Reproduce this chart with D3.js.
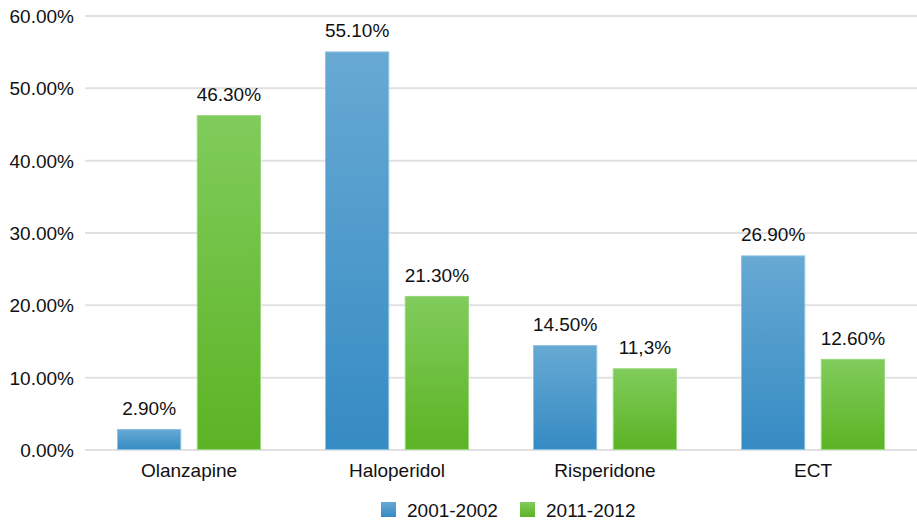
<!DOCTYPE html>
<html>
<head>
<meta charset="utf-8">
<script src="https://cdn.jsdelivr.net/npm/d3@7"></script>
<style>
  body { margin: 0; background: #fff; }
  text { font-family: "Liberation Sans", Arial, Helvetica, sans-serif; fill: #111; }
</style>
</head>
<body>
<svg id="chart" width="917" height="521"></svg>
<script>

let categories = ["Olanzapine", "Haloperidol", "Risperidone", "ECT"]
let seriesNames = ["2001-2002", "2011-2012"]
let values2001 = [2.9, 55.1, 14.5, 26.9]
let values2011 = [46.3, 21.3, 11.3, 12.6]
let labels2001 = ["2.90%", "55.10%", "14.50%", "26.90%"]
let labels2011 = ["46.30%", "21.30%", "11,3%", "12.60%"]
let yTicks = [0, 10, 20, 30, 40, 50, 60]

let svg = d3.select("#chart")
let plotLeft = 85, plotRight = 917, plotTop = 16, plotBottom = 450
let fontSize = "19px"

let x = d3.scaleBand().domain(categories).range([plotLeft, plotRight])
let inner = d3.scaleBand().domain(seriesNames).range([32, 176]).paddingInner(14 / 72)
let y = d3.scaleLinear().domain([0, 60]).range([plotBottom, plotTop])

let defs = svg.append("defs")
let gradients = [
  {id: "gBlue", top: "#67a9d3", bottom: "#358bc3", stroke: "#8cc2e3"},
  {id: "gGreen", top: "#80cc5c", bottom: "#5cb324", stroke: "#9ad77c"}
]
gradients.forEach(function(g) {
  let lg = defs.append("linearGradient").attr("id", g.id)
    .attr("x1", 0).attr("y1", 0).attr("x2", 0).attr("y2", 1)
  lg.append("stop").attr("offset", "0%").attr("stop-color", g.top)
  lg.append("stop").attr("offset", "100%").attr("stop-color", g.bottom)
})

// gridlines
svg.append("g")
   .selectAll("line")
   .data(yTicks)
   .enter()
   .append("line")
   .attr("x1", plotLeft)
   .attr("x2", plotRight)
   .attr("y1", function(d) { return y(d) })
   .attr("y2", function(d) { return y(d) })
   .style("stroke", "#e1e1e1")
   .style("stroke-width", 2)

// y axis labels
svg.append("g")
   .selectAll("text")
   .data(yTicks)
   .enter()
   .append("text")
   .attr("x", 74)
   .attr("y", function(d) { return y(d) })
   .attr("dy", "0.36em")
   .attr("text-anchor", "end")
   .style("font-size", fontSize)
   .text(function(d) { return d.toFixed(2) + "%" })

let series = [
  {name: seriesNames[0], values: values2001, labels: labels2001, grad: gradients[0]},
  {name: seriesNames[1], values: values2011, labels: labels2011, grad: gradients[1]}
]

series.forEach(function(s) {
  let g = svg.append("g")
  g.selectAll("rect")
   .data(categories)
   .enter()
   .append("rect")
   .attr("x", function(c) { return x(c) + inner(s.name) + 0.5 })
   .attr("y", function(c, i) { return y(s.values[i]) + 0.5 })
   .attr("width", inner.bandwidth() - 1)
   .attr("height", function(c, i) { return y(0) - y(s.values[i]) - 1 })
   .attr("fill", "url(#" + s.grad.id + ")")
   .style("stroke", s.grad.stroke)
   .style("stroke-width", 1)

  g.selectAll("text")
   .data(categories)
   .enter()
   .append("text")
   .attr("x", function(c) { return x(c) + inner(s.name) + inner.bandwidth() / 2 })
   .attr("y", function(c, i) { return y(s.values[i]) - 14 })
   .attr("text-anchor", "middle")
   .style("font-size", fontSize)
   .text(function(c, i) { return s.labels[i] })
})

// category labels
svg.append("g")
   .selectAll("text")
   .data(categories)
   .enter()
   .append("text")
   .attr("x", function(c) { return x(c) + x.bandwidth() / 2 })
   .attr("y", 477)
   .attr("text-anchor", "middle")
   .style("font-size", fontSize)
   .text(function(c) { return c })

// legend
let legendX = [381, 520]
series.forEach(function(s, i) {
  svg.append("rect")
     .attr("x", legendX[i])
     .attr("y", 502)
     .attr("width", 15)
     .attr("height", 15)
     .attr("fill", "url(#" + s.grad.id + ")")
  svg.append("text")
     .attr("x", legendX[i] + 26)
     .attr("y", 510)
     .attr("dy", "0.36em")
     .style("font-size", fontSize)
     .text(s.name)
})

</script>
</body>
</html>
